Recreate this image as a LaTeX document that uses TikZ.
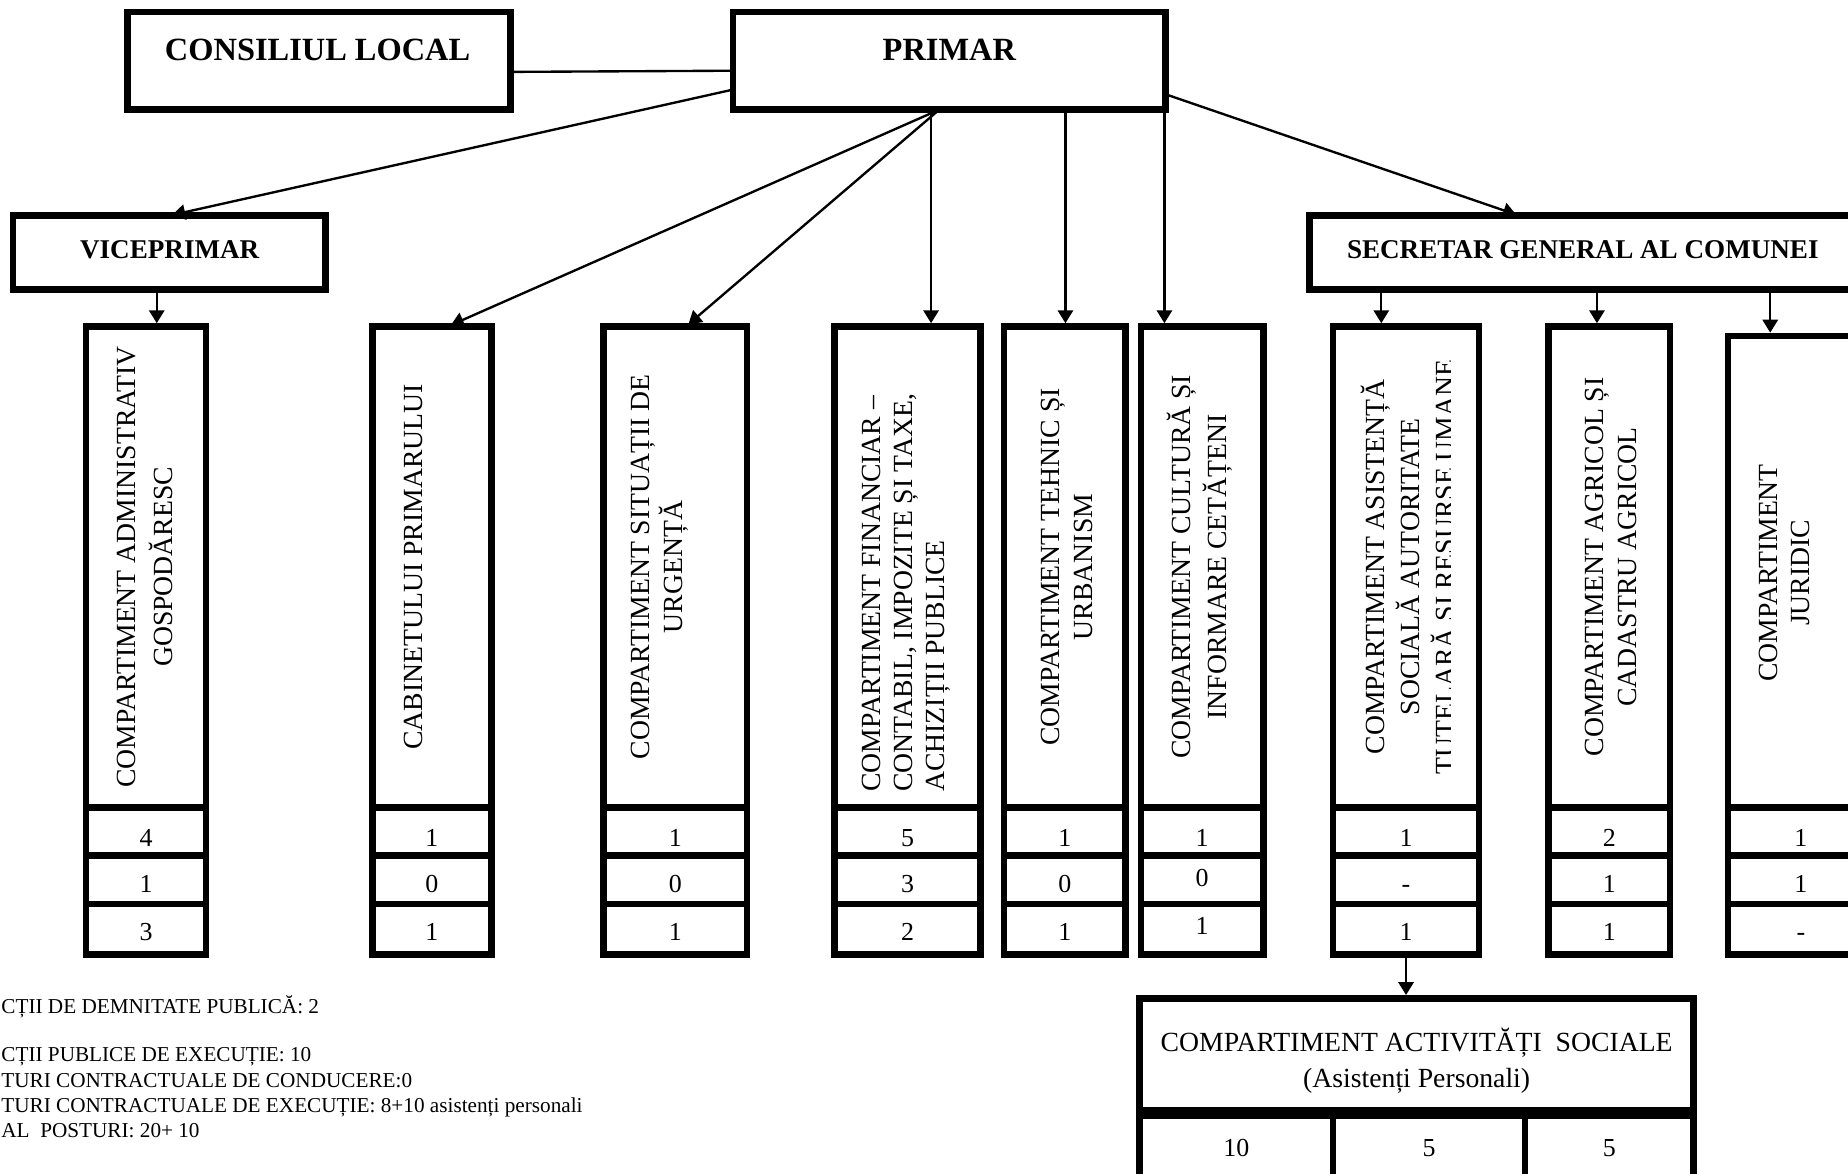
\documentclass[tikz,border=0pt]{standalone}
\usepackage{fontspec}
\setmainfont{Liberation Serif}
\usetikzlibrary{arrows.meta}
\tikzset{
  box/.style={draw, line width=5.5pt, inner sep=0pt, outer sep=0pt, anchor=north west},
  conn/.style={line width=2pt, -{Triangle[length=11pt,width=13pt]}, shorten >=2.75pt},
  plainline/.style={line width=2pt},
  vt/.style={rotate=90, align=center, inner sep=0pt},
  num/.style={anchor=base, inner sep=0pt, font=\fontsize{22}{26}\selectfont},
  hdbig/.style={anchor=base, inner sep=0pt, font=\bfseries\fontsize{27.5}{32}\selectfont},
  hd/.style={anchor=base, inner sep=0pt, font=\bfseries\fontsize{23}{28}\selectfont},
  leg/.style={anchor=base west, inner sep=0pt, font=\fontsize{18}{22}\selectfont},
  mid/.style={anchor=base, inner sep=0pt, font=\fontsize{23.5}{30}\selectfont},
}
\begin{document}
\begin{tikzpicture}[x=1pt,y=-1pt]
\useasboundingbox[fill=white] (0,0) rectangle (1568,996);

% top boxes
\node[box, minimum width=325pt, minimum height=83pt] (cl) at (108,10) {};
\node[box, minimum width=367pt, minimum height=83pt] (pr) at (622,10) {};
\node[box, minimum width=265pt, minimum height=62.5pt] (vp) at (11,183) {};
\node[box, minimum width=469pt, minimum height=62.5pt] (sg) at (1111,183) {};

\node[hdbig] (clt) at (269.5,51) {CONSILIUL LOCAL};
\node[hdbig] (prt) at (805.5,51) {PRIMAR};
\node[hd] (vpt) at (144,219) {VICEPRIMAR};
\node[hd] (sgt) at (1343,219) {SECRETAR GENERAL AL COMUNEI};

% columns
\foreach \n/\xl/\w/\tp in {1/73/102/277, 2/316/101/277, 3/512/122/277, 4/708/124/277, 5/852/103/277, 6/968/104/277, 7/1131/124/277, 8/1314/103/277, 9/1466/124/285}{
  \pgfmathsetmacro{\hh}{685-\tp}
  \node[box, minimum width=\w pt, minimum height=\hh pt] (c\n) at (\xl,\tp) {};
  \node[box, minimum width=\w pt, minimum height=41pt] (c\n a) at (\xl,685) {};
  \node[box, minimum width=\w pt, minimum height=41pt] (c\n b) at (\xl,726) {};
  \node[box, minimum width=\w pt, minimum height=43pt] (c\n c) at (\xl,767) {};
}

% column texts
\node[vt, font=\fontsize{23.5}{32}\selectfont] (t1) at (123,481) {COMPARTIMENT ADMINISTRATIV\\GOSPODĂRESC};
\node[vt, font=\fontsize{23.5}{28}\selectfont] (t2) at (351,481) {CABINETULUI PRIMARULUI};
\node[vt, font=\fontsize{23.5}{28}\selectfont] (t3) at (560,481) {COMPARTIMENT SITUAȚII DE\\URGENȚĂ};
\node[vt, anchor=west, align=left, font=\fontsize{23.5}{27.5}\selectfont] (t4) at (769,672) {COMPARTIMENT FINANCIAR –\\CONTABIL, IMPOZITE ȘI TAXE,\\ACHIZIȚII PUBLICE};
\node[vt, font=\fontsize{23.5}{28}\selectfont] (t5) at (905,481) {COMPARTIMENT TEHNIC ȘI\\URBANISM};
\node[vt, font=\fontsize{23.5}{30}\selectfont] (t6) at (1018,481) {COMPARTIMENT CULTURĂ ȘI\\INFORMARE CETĂȚENI};
\begin{scope}
\clip (1131,277) rectangle (1231,685);
\node[vt, font=\fontsize{23.5}{30}\selectfont] (t7) at (1197,481) {COMPARTIMENT ASISTENȚĂ\\SOCIALĂ AUTORITATE\\TUTELARĂ ȘI RESURSE UMANE};
\end{scope}
\node[vt, font=\fontsize{23.5}{28}\selectfont] (t8) at (1367,481) {COMPARTIMENT AGRICOL ȘI\\CADASTRU AGRICOL};
\node[vt, font=\fontsize{23.5}{27.6}\selectfont] (t9) at (1514,486) {COMPARTIMENT\\JURIDIC};

% cell numbers
\foreach \n/\x/\a/\b/\c in {1/124/4/1/3, 2/366.5/1/0/1, 3/573/1/0/1, 4/770/5/3/2, 5/903.5/1/0/1, 7/1193/1/-/1, 8/1365.5/2/1/1, 9/1528/1/1/-}{
  \node[num] (n\n a) at (\x,718) {\a};
  \node[num] (n\n b) at (\x,757) {\b};
  \node[num] (n\n c) at (\x,798) {\c};
}
\node[num] (n6a) at (1020,718) {1};
\node[num] (n6b) at (1020,752) {0};
\node[num] (n6c) at (1020,793) {1};

% social activities box
\node[box, minimum width=470pt, minimum height=95pt] (as) at (967,847) {};
\node[box, minimum width=164pt, minimum height=70pt] (asa) at (967,947) {};
\node[box, minimum width=163pt, minimum height=70pt] (asb) at (1131,947) {};
\node[box, minimum width=143pt, minimum height=70pt] (asc) at (1294,947) {};
\node[mid] (ast1) at (1202,892.5) {COMPARTIMENT ACTIVITĂȚI\ \ SOCIALE};
\node[mid] (ast2) at (1202,923) {(Asistenți Personali)};
\node[num] (asn1) at (1049,981) {10};
\node[num] (asn2) at (1212.5,981) {5};
\node[num] (asn3) at (1365.5,981) {5};

% legend
\node[leg] (lg1) at (1,860) {CȚII DE DEMNITATE PUBLICĂ: 2};
\node[leg] (lg2) at (1,900.5) {CȚII PUBLICE DE EXECUȚIE: 10};
\node[leg] (lg3) at (1,923) {TURI CONTRACTUALE DE CONDUCERE:0};
\node[leg] (lg4) at (1,944) {TURI CONTRACTUALE DE EXECUȚIE: 8+10 asistenți personali};
\node[leg] (lg5) at (1,965) {AL\ \ POSTURI: 20+ 10};

% connectors
\draw[plainline, shorten <=3pt] ([yshift=-9.5pt]cl.east) -- ([yshift=-8.5pt]pr.west);
\draw[conn] ([yshift=-24.5pt]pr.west) -- (vp.north);
\draw[conn] ([xshift=-8.5pt]pr.south) -- ([xshift=13.5pt]c2.north);
\draw[conn] ([xshift=-8.5pt]pr.south) -- ([xshift=9pt]c3.north);
\draw[conn] ([xshift=-15.5pt]pr.south) -- ([xshift=20pt]c4.north);
\draw[conn] ([xshift=98.5pt]pr.south) -- ([xshift=0.5pt]c5.north);
\draw[conn] ([xshift=182.5pt]pr.south) -- ([xshift=-32pt]c6.north);
\draw[conn] ([yshift=-28.5pt]pr.east) -- ([xshift=-56.5pt]sg.north);
\draw[conn] ([xshift=-10.5pt]vp.south) -- ([xshift=9pt]c1.north);
\draw[conn] ([xshift=-173.5pt]sg.south) -- ([xshift=-21pt]c7.north);
\draw[conn] ([xshift=9.5pt]sg.south) -- ([xshift=-10.5pt]c8.north);
\draw[conn] ([xshift=156.5pt]sg.south) -- ([xshift=-26pt]c9.north);
\draw[conn] (c7c.south) -- ([xshift=-9pt]as.north);
\end{tikzpicture}
\end{document}
